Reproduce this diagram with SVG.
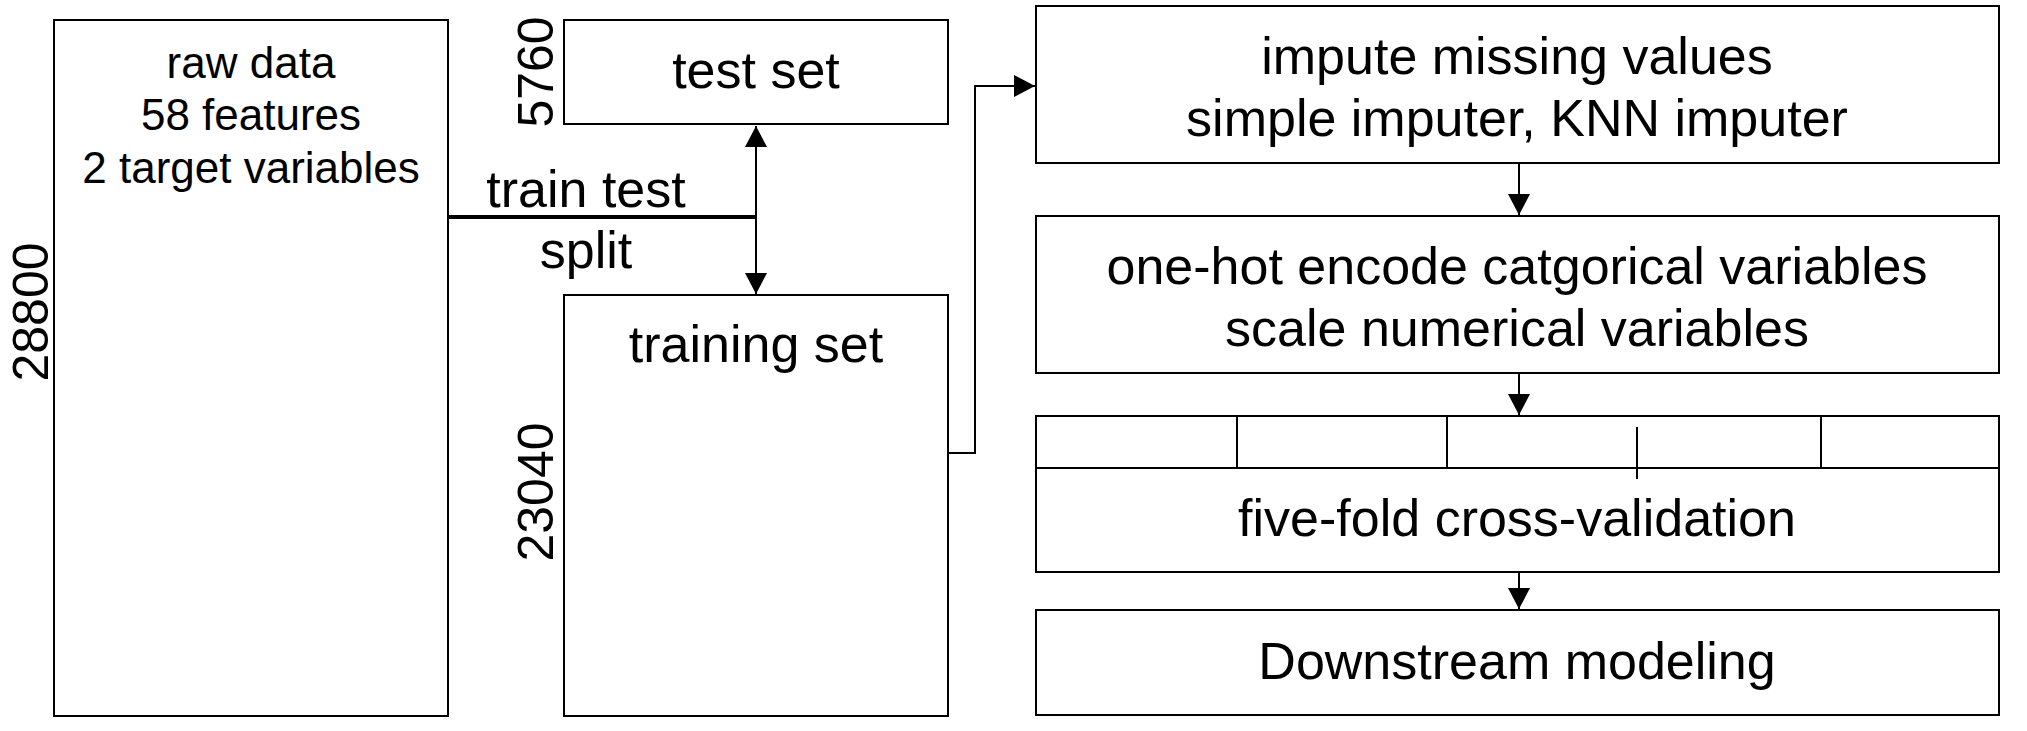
<svg xmlns="http://www.w3.org/2000/svg" width="2027" height="731" viewBox="0 0 2027 731">
<style>
.box{fill:#fff;stroke:#000;stroke-width:2}
.t{font-family:"Liberation Sans",Arial,sans-serif;fill:#000;text-anchor:middle}
.f52{font-size:52px}
.f44{font-size:44px}
.f50{font-size:50px}
.ln{fill:none;stroke:#000;stroke-width:2}
</style>
<defs>
<marker id="ah" markerUnits="userSpaceOnUse" markerWidth="22" markerHeight="22" viewBox="0 0 22 22" refX="21" refY="11" orient="auto-start-reverse">
<path d="M0,0 L21,11 L0,22 z" fill="#000"/>
</marker>
</defs>
<rect width="2027" height="731" fill="#fff"/>
<g id="raw-data">
<rect class="box" x="54" y="20" width="394" height="696"/>
<text class="t f44" x="251" y="78">raw data</text>
<text class="t f44" x="251" y="130">58 features</text>
<text class="t f44" x="251" y="183">2 target variables</text>
<text class="t f50" transform="translate(48,312) rotate(-90)">28800</text>
</g>
<g id="test-set">
<rect class="box" x="564" y="20" width="384" height="104"/>
<text class="t f52" x="756" y="88">test set</text>
<text class="t f50" transform="translate(553,72) rotate(-90)">5760</text>
</g>
<g id="training-set">
<rect class="box" x="564" y="295" width="384" height="421"/>
<text class="t f52" x="756" y="362">training set</text>
<text class="t f50" transform="translate(553,492) rotate(-90)">23040</text>
</g>
<g id="impute">
<rect class="box" x="1036" y="6" width="963" height="157"/>
<text class="t f52" x="1517" y="74">impute missing values</text>
<text class="t f52" x="1517" y="136">simple imputer, KNN imputer</text>
</g>
<g id="encode">
<rect class="box" x="1036" y="216" width="963" height="157"/>
<text class="t f52" x="1517" y="284">one-hot encode catgorical variables</text>
<text class="t f52" x="1517" y="346">scale numerical variables</text>
</g>
<g id="cross-validation">
<rect class="box" x="1036" y="416" width="963" height="156"/>
<line class="ln" x1="1036" y1="468" x2="1999" y2="468"/>
<line class="ln" x1="1237" y1="416" x2="1237" y2="468"/>
<line class="ln" x1="1447" y1="416" x2="1447" y2="468"/>
<line class="ln" x1="1637" y1="427" x2="1637" y2="479"/>
<line class="ln" x1="1821" y1="416" x2="1821" y2="468"/>
<text class="t f52" x="1517" y="536">five-fold cross-validation</text>
</g>
<g id="downstream">
<rect class="box" x="1036" y="610" width="963" height="105"/>
<text class="t f52" x="1517" y="679">Downstream modeling</text>
</g>
<g id="connectors">
<line x1="448" y1="217" x2="756" y2="217" stroke="#000" stroke-width="4"/>
<line class="ln" x1="756" y1="126" x2="756" y2="294" marker-start="url(#ah)" marker-end="url(#ah)"/>
<text class="t f52" x="586" y="207">train test</text>
<text class="t f52" x="586" y="268">split</text>
<polyline class="ln" points="948,453 975,453 975,86 1035,86" marker-end="url(#ah)"/>
<line class="ln" x1="1519" y1="163" x2="1519" y2="215" marker-end="url(#ah)"/>
<line class="ln" x1="1519" y1="373" x2="1519" y2="415" marker-end="url(#ah)"/>
<line class="ln" x1="1519" y1="572" x2="1519" y2="609" marker-end="url(#ah)"/>
</g>
</svg>
